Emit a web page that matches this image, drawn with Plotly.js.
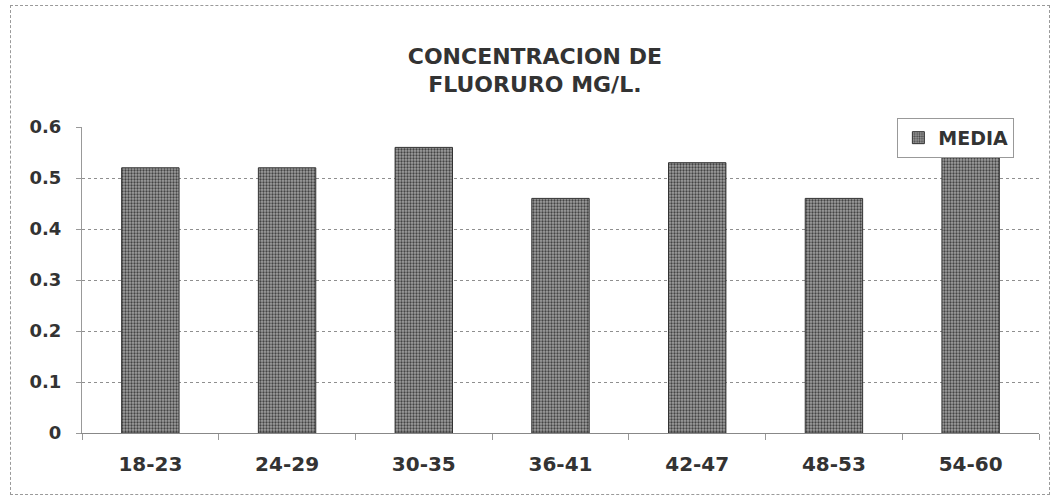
<!DOCTYPE html>
<html>
<head>
<meta charset="utf-8">
<script src="https://cdn.plot.ly/plotly-3.0.1.min.js"></script>
<style>
  html, body { margin: 0; padding: 0; background: #fff; }
  #wrap { position: relative; width: 1055px; height: 499px; }
  #chart { width: 1055px; height: 499px; }
  #frame { position: absolute; left: 10px; top: 5px; width: 1038px; height: 488px;
           border: 1px dashed #9a9a9a; pointer-events: none; }
</style>
</head>
<body>
<div id="wrap">
  <div id="chart"></div>
  <div id="frame"></div>
</div>
<script>
const categories = ['18-23', '24-29', '30-35', '36-41', '42-47', '48-53', '54-60'];
const media = [0.52, 0.52, 0.56, 0.46, 0.53, 0.46, 0.56];
const seriesName = 'MEDIA';
const titleLines = ['CONCENTRACION DE', 'FLUORURO MG/L.'];
const yTicks = [0, 0.1, 0.2, 0.3, 0.4, 0.5, 0.6];
const yTickText = ['0', '0.1', '0.2', '0.3', '0.4', '0.5', '0.6'];

const font = 'DejaVu Sans, Verdana, sans-serif';

const trace = {
  type: 'bar',
  x: categories,
  y: media,
  name: seriesName,
  showlegend: true,
  marker: {
    color: '#858585',
    line: { color: '#333333', width: 1 },
    pattern: { shape: '.', fgcolor: '#444444', bgcolor: '#a0a0a0', size: 3, solidity: 0.45 }
  },
  hoverinfo: 'x+y'
};

const layout = {
  width: 1055,
  height: 499,
  margin: { l: 82, r: 16, t: 127, b: 66 },
  paper_bgcolor: '#ffffff',
  plot_bgcolor: '#ffffff',
  font: { family: font, color: '#333', size: 18 },
  title: {
    text: titleLines.map(s => '<b>' + s + '</b>').join('<br>'),
    font: { family: font, size: 22, color: '#333' },
    x: 0.507, xanchor: 'center',
    y: 0.872, yanchor: 'middle'
  },
  bargap: 0.58,
  xaxis: {
    type: 'category',
    showline: true,
    linecolor: '#888',
    linewidth: 1,
    ticks: 'outside',
    tickson: 'boundaries',
    ticklen: 6,
    tickcolor: '#999',
    ticklabelstandoff: 13,
    tickfont: { family: font, size: 20, color: '#333', weight: 'bold' },
    showgrid: false,
    zeroline: false
  },
  yaxis: {
    range: [0, 0.6],
    tickvals: yTicks,
    ticktext: yTickText,
    showline: true,
    linecolor: '#999',
    linewidth: 1,
    linedash: 'dot',
    ticks: 'outside',
    ticklen: 5,
    tickcolor: '#999',
    ticklabelstandoff: 11,
    tickfont: { family: font, size: 18, color: '#333', weight: 'bold' },
    showgrid: true,
    gridcolor: '#8f8f8f',
    griddash: 'dot',
    gridwidth: 1,
    zeroline: true,
    zerolinecolor: '#888',
    zerolinewidth: 1
  },
  legend: {
    x: 0.852, xanchor: 'left',
    y: 1.03, yanchor: 'top',
    bgcolor: '#ffffff',
    bordercolor: '#999',
    borderwidth: 1,
    font: { family: font, size: 19, color: '#333', weight: 'bold' },
    itemwidth: 30,
    tracegroupgap: 0
  },
  showlegend: true
};

Plotly.newPlot('chart', [trace], layout, { displayModeBar: false, staticPlot: true });
</script>
</body>
</html>
